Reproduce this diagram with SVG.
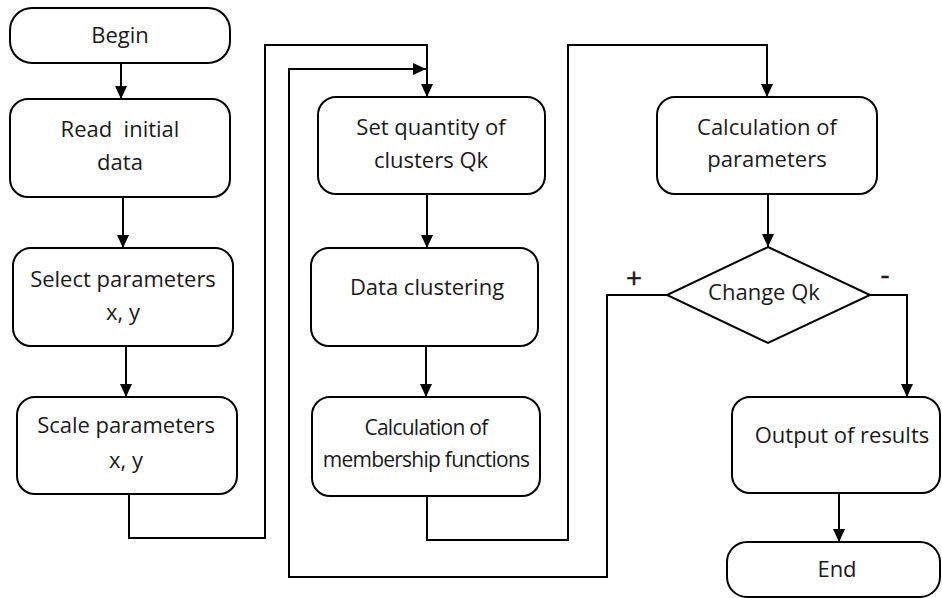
<svg xmlns="http://www.w3.org/2000/svg" width="942" height="598" viewBox="0 0 942 598">
<style>
.box{fill:#fff;stroke:#000;stroke-width:2}
.t{font-family:"Open Sans","Liberation Sans",sans-serif;font-size:22px;fill:#1a1a1a;text-anchor:middle}
.tn{font-family:"Open Sans","Liberation Sans",sans-serif;font-size:21px;fill:#1a1a1a;text-anchor:middle;letter-spacing:-0.75px}
.s{font-family:"Open Sans","Liberation Sans",sans-serif;font-size:28px;fill:#1a1a1a;text-anchor:middle;stroke:#1a1a1a;stroke-width:0.5}
.c{fill:none;stroke:#000;stroke-width:2}
</style>
<defs>
<marker id="ah" markerUnits="userSpaceOnUse" markerWidth="14" markerHeight="14" viewBox="0 0 14 14" refX="13" refY="7" orient="auto">
<path d="M0,1 L13,7 L0,13 Z" fill="#000"/>
</marker>
</defs>
<rect width="942" height="598" fill="#fff"/>
<g id="connectors">
<path class="c" d="M121,63 V99" marker-end="url(#ah)"/>
<path class="c" d="M123,197 V248" marker-end="url(#ah)"/>
<path class="c" d="M126,346 V397" marker-end="url(#ah)"/>
<path class="c" d="M129,494 V538 H265 V45 H427 V97" marker-end="url(#ah)"/>
<path class="c" d="M427,194 V248" marker-end="url(#ah)"/>
<path class="c" d="M426,346 V397" marker-end="url(#ah)"/>
<path class="c" d="M427,496 V540 H568 V45 H767 V97" marker-end="url(#ah)"/>
<path class="c" d="M768,194 V247" marker-end="url(#ah)"/>
<path class="c" d="M667,295 H607 V577 H289 V69 H426" marker-end="url(#ah)"/>
<path class="c" d="M870,295 H907 V397" marker-end="url(#ah)"/>
<path class="c" d="M839,493 V542" marker-end="url(#ah)"/>
<text class="s" x="634" y="288">+</text>
<text class="s" x="885" y="284">-</text>
</g>
<g id="begin"><rect class="box" x="10" y="8" width="220" height="55" rx="22"/><text class="t" x="120" y="43">Begin</text></g>
<g id="read"><rect class="box" x="10" y="99" width="220" height="98" rx="18"/><text class="t" x="120" y="137" xml:space="preserve">Read  initial</text><text class="t" x="120" y="170">data</text></g>
<g id="select"><rect class="box" x="13" y="248" width="220" height="98" rx="18"/><text class="t" x="123" y="287">Select parameters</text><text class="t" x="123" y="320">x, y</text></g>
<g id="scale"><rect class="box" x="17" y="397" width="220" height="97" rx="18"/><text class="t" x="126" y="433">Scale parameters</text><text class="t" x="126" y="468">x, y</text></g>
<g id="setq"><rect class="box" x="318" y="97" width="227" height="97" rx="18"/><text class="t" x="431" y="135">Set quantity of</text><text class="t" x="431" y="168">clusters Qk</text></g>
<g id="cluster"><rect class="box" x="311" y="248" width="227" height="98" rx="18"/><text class="t" x="427" y="295">Data clustering</text></g>
<g id="membership"><rect class="box" x="312" y="397" width="228" height="99" rx="18"/><text class="tn" x="426" y="435">Calculation of</text><text class="tn" x="426" y="467">membership functions</text></g>
<g id="calcparams"><rect class="box" x="657" y="97" width="220" height="97" rx="18"/><text class="t" x="767" y="135">Calculation of</text><text class="t" x="767" y="167">parameters</text></g>
<g id="decision"><path class="box" d="M768,247 L870,295 L768,343 L667,295 Z"/><text class="t" x="764" y="300">Change Qk</text></g>
<g id="output"><rect class="box" x="732" y="397" width="208" height="96" rx="18"/><text class="t" x="842" y="443">Output of results</text></g>
<g id="end"><rect class="box" x="727" y="542" width="213" height="55" rx="20"/><text class="t" x="837" y="577">End</text></g>
</svg>
